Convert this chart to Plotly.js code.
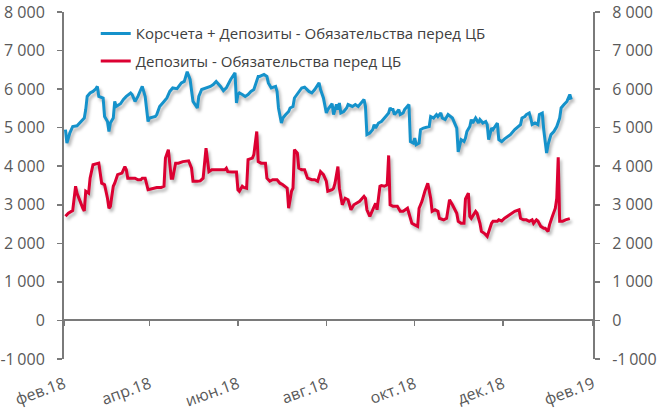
<!DOCTYPE html>
<html>
<head>
<meta charset="utf-8">
<script src="https://cdn.plot.ly/plotly-3.0.1.min.js"></script>
<style>
html,body{margin:0;padding:0;background:#fff;}
#chart{width:661px;height:410px;}
.scatterlayer .js-line{filter:drop-shadow(2px 3px 1.5px rgba(0,0,0,0.28));}
</style>
</head>
<body>
<div id="chart"></div>
<script>
// Series names
const seriesNames = ["Корсчета + Депозиты - Обязательства перед ЦБ", "Депозиты - Обязательства перед ЦБ"];

// Series 1: Корсчета + Депозиты - Обязательства перед ЦБ
const datesBlue = [
"2018-02-02","2018-02-03","2018-02-05","2018-02-07","2018-02-10","2018-02-13","2018-02-15","2018-02-16","2018-02-17","2018-02-19",
"2018-02-21","2018-02-23","2018-02-24","2018-02-25","2018-02-28","2018-03-01","2018-03-03","2018-03-04","2018-03-05","2018-03-07",
"2018-03-08","2018-03-09","2018-03-12","2018-03-14","2018-03-16","2018-03-19","2018-03-20","2018-03-22","2018-03-24","2018-03-26",
"2018-03-27","2018-03-29","2018-03-31","2018-04-01","2018-04-05","2018-04-06","2018-04-08","2018-04-11","2018-04-13","2018-04-15",
"2018-04-17","2018-04-20","2018-04-21","2018-04-23","2018-04-25","2018-04-27","2018-04-29","2018-05-01","2018-05-04","2018-05-05",
"2018-05-07","2018-05-10","2018-05-13","2018-05-15","2018-05-17","2018-05-20","2018-05-22","2018-05-24","2018-05-27","2018-05-30",
"2018-05-31","2018-06-01","2018-06-02","2018-06-04","2018-06-06","2018-06-08","2018-06-10","2018-06-12","2018-06-13","2018-06-15",
"2018-06-16","2018-06-19","2018-06-21","2018-06-22","2018-06-24","2018-06-27","2018-06-28","2018-06-29","2018-07-01","2018-07-02",
"2018-07-04","2018-07-06","2018-07-07","2018-07-09","2018-07-10","2018-07-13","2018-07-15","2018-07-17","2018-07-20","2018-07-22",
"2018-07-24","2018-07-27","2018-07-28","2018-07-30","2018-08-01","2018-08-02","2018-08-05","2018-08-06","2018-08-08","2018-08-09",
"2018-08-10","2018-08-11","2018-08-13","2018-08-15","2018-08-16","2018-08-19","2018-08-21","2018-08-23","2018-08-25","2018-08-27",
"2018-08-28","2018-08-29","2018-08-31","2018-09-02","2018-09-03","2018-09-04","2018-09-06","2018-09-08","2018-09-11","2018-09-13",
"2018-09-14","2018-09-15","2018-09-16","2018-09-17","2018-09-19","2018-09-20","2018-09-21","2018-09-23","2018-09-24","2018-09-26",
"2018-09-27","2018-09-28","2018-09-30","2018-10-01","2018-10-02","2018-10-04","2018-10-05","2018-10-07","2018-10-09","2018-10-11",
"2018-10-12","2018-10-14","2018-10-16","2018-10-17","2018-10-19","2018-10-20","2018-10-22","2018-10-24","2018-10-27","2018-10-28",
"2018-10-30","2018-10-31","2018-11-01","2018-11-02","2018-11-04","2018-11-05","2018-11-06","2018-11-07","2018-11-08","2018-11-09",
"2018-11-10","2018-11-12","2018-11-14","2018-11-15","2018-11-17","2018-11-19","2018-11-20","2018-11-21","2018-11-23","2018-11-24",
"2018-11-26","2018-11-27","2018-11-28","2018-11-30","2018-12-02","2018-12-06","2018-12-09","2018-12-12","2018-12-13","2018-12-14",
"2018-12-16","2018-12-17","2018-12-19","2018-12-20","2018-12-21","2018-12-23","2018-12-25","2018-12-26","2018-12-28","2018-12-29",
"2018-12-31","2019-01-01","2019-01-03","2019-01-05","2019-01-07","2019-01-09","2019-01-10","2019-01-12","2019-01-14","2019-01-16",
"2019-01-17"];
const valuesBlue = [
4950,4600,4860,5030,5050,5160,5250,5470,5810,5900,
5940,6010,6070,5810,5770,5290,5160,4900,5120,5250,
5680,5550,5620,5730,5810,5900,5860,5680,5810,5990,
6070,5810,5160,5250,5290,5340,5550,5680,5770,5940,
6030,6010,6070,6160,6200,6450,6250,5680,5510,5810,
5990,6030,6070,6120,6200,6070,5960,6030,6250,6420,
5640,5860,5900,5860,5810,5860,5940,5990,6120,6330,
6330,6380,6330,6160,6030,6070,5940,5510,5120,5250,
5340,5420,5510,5550,5770,5940,6030,6050,5940,5900,
5990,6160,5990,5770,5380,5470,5620,5340,5600,5470,
5640,5380,5420,5510,5600,5550,5600,5550,5640,5730,
5550,4820,4860,4950,5080,4990,5120,5160,5290,5380,
5510,5470,5470,5340,5420,5470,5340,5380,5470,5550,
5600,4640,4600,4730,4560,4600,4950,4990,5010,5030,
5290,5250,5340,5290,5380,5250,5210,5340,5250,5160,
4990,4370,4510,4690,4640,4730,4900,4950,5030,5210,
5120,5250,5120,5210,5120,5160,5080,4690,4990,4950,
5080,5120,4690,4640,4710,4820,4950,5030,5080,5250,
5290,5340,5380,5250,5080,5120,5080,5340,5380,4950,
4340,4560,4820,4900,5030,5250,5510,5600,5680,5860,
5730];

// Series 2: Депозиты - Обязательства перед ЦБ
const datesRed = [
"2018-02-02","2018-02-04","2018-02-07","2018-02-09","2018-02-10","2018-02-12","2018-02-14","2018-02-15","2018-02-16","2018-02-18",
"2018-02-19","2018-02-21","2018-02-24","2018-02-25","2018-02-27","2018-03-01","2018-03-03","2018-03-04","2018-03-05","2018-03-07",
"2018-03-08","2018-03-10","2018-03-13","2018-03-15","2018-03-16","2018-03-17","2018-03-20","2018-03-22","2018-03-24","2018-03-26",
"2018-03-27","2018-03-29","2018-03-31","2018-04-03","2018-04-06","2018-04-09","2018-04-11","2018-04-12","2018-04-14","2018-04-16",
"2018-04-17","2018-04-19","2018-04-21","2018-04-24","2018-04-28","2018-04-30","2018-05-01","2018-05-04","2018-05-06","2018-05-08",
"2018-05-10","2018-05-12","2018-05-14","2018-05-18","2018-05-23","2018-05-24","2018-05-25","2018-05-28","2018-05-31","2018-06-01",
"2018-06-02","2018-06-04","2018-06-05","2018-06-07","2018-06-08","2018-06-11","2018-06-12","2018-06-14","2018-06-15","2018-06-17",
"2018-06-20","2018-06-21","2018-06-23","2018-06-25","2018-06-28","2018-06-30","2018-07-02","2018-07-05","2018-07-06","2018-07-08",
"2018-07-09","2018-07-10","2018-07-12","2018-07-13","2018-07-15","2018-07-17","2018-07-19","2018-07-22","2018-07-24","2018-07-26",
"2018-07-28","2018-07-30","2018-08-01","2018-08-02","2018-08-05","2018-08-06","2018-08-07","2018-08-09","2018-08-10","2018-08-12",
"2018-08-14","2018-08-16","2018-08-18","2018-08-20","2018-08-22","2018-08-24","2018-08-27","2018-08-28","2018-08-29","2018-08-31",
"2018-09-02","2018-09-04","2018-09-05","2018-09-07","2018-09-08","2018-09-10","2018-09-12","2018-09-13","2018-09-14","2018-09-16",
"2018-09-19","2018-09-21","2018-09-23","2018-09-26","2018-09-27","2018-09-29","2018-10-01","2018-10-03","2018-10-04","2018-10-06",
"2018-10-08","2018-10-10","2018-10-12","2018-10-13","2018-10-15","2018-10-17","2018-10-18","2018-10-21","2018-10-23","2018-10-25",
"2018-10-27","2018-10-29","2018-10-30","2018-10-31","2018-11-02","2018-11-04","2018-11-05","2018-11-07","2018-11-08","2018-11-09",
"2018-11-12","2018-11-13","2018-11-15","2018-11-16","2018-11-18","2018-11-20","2018-11-21","2018-11-23","2018-11-24","2018-11-27",
"2018-11-28","2018-11-30","2018-12-02","2018-12-06","2018-12-09","2018-12-12","2018-12-13","2018-12-15","2018-12-17","2018-12-19",
"2018-12-21","2018-12-22","2018-12-24","2018-12-25","2018-12-27","2018-12-29","2018-12-30","2019-01-01","2019-01-02","2019-01-04",
"2019-01-06","2019-01-07","2019-01-08","2019-01-09","2019-01-11","2019-01-13","2019-01-16"];
const valuesRed = [
2700,2780,2850,3480,3300,3090,2910,2840,3350,3300,
3690,4040,4080,4080,3560,3520,3170,2910,2960,3480,
3560,3780,3820,3990,3910,3690,3690,3690,3650,3650,
3690,3690,3390,3420,3450,3450,3480,4210,4430,3690,
3690,4080,4080,4120,4140,3950,3610,3610,3620,3690,
4470,3860,3910,3910,3910,3950,3860,3850,3850,3390,
3350,3480,3450,3430,4170,4210,4300,4900,4120,4080,
4080,3690,3610,3650,3650,3560,3520,3430,2910,3350,
3430,4430,4340,3950,3910,3910,3690,3650,3650,3610,
3860,3780,3610,3350,3390,3430,3560,3990,3430,3000,
3170,3130,2870,3000,3040,3090,3220,3170,2870,2700,
2870,3040,2870,3480,3500,3480,3520,4280,3000,2960,
2960,2830,2830,2910,2780,2520,2480,2440,2910,3090,
3350,3560,3170,2830,2870,2830,2650,2610,2650,3130,
3000,2830,2780,2570,2520,2520,3150,3300,2700,2650,
2830,2780,2520,2310,2260,2180,2310,2520,2570,2570,
2610,2580,2650,2740,2830,2870,2650,2610,2610,2570,
2610,2520,2610,2580,2440,2390,2390,2310,2480,2700,
2910,3170,4230,2570,2570,2610,2640];

// Axis ticks
const xTickVals = ["2018-02-01","2018-04-01","2018-06-01","2018-08-01","2018-10-01","2018-12-01","2019-02-01"];
const xTickText = ["фев.18","апр.18","июн.18","авг.18","окт.18","дек.18","фев.19"];
const yTickVals = [-1000,0,1000,2000,3000,4000,5000,6000,7000,8000];
const yTickText = ["-1\u2009000","0","1 000","2 000","3 000","4 000","5 000","6 000","7 000","8 000"];
const xRange = ["2018-02-01","2019-02-01"];
const yRange = [-1000, 8000];

const FONT = "'Open Sans', 'Noto Sans', sans-serif";
const AXIS_COLOR = "#7a7a7a";
const TEXT_COLOR = "#595959";

const traces = [
  {x: datesBlue, y: valuesBlue, name: seriesNames[0], type: "scatter", mode: "lines",
   line: {color: "#1592CB", width: 3}, legendgroup: "a", xaxis: "x", yaxis: "y"},
  {x: datesRed, y: valuesRed, name: seriesNames[1], type: "scatter", mode: "lines",
   line: {color: "#DC0032", width: 3}, legendgroup: "b", xaxis: "x2", yaxis: "y2"}
];

const yCommon = {
  range: yRange, tickmode: "array", tickvals: yTickVals, ticktext: yTickText,
  showgrid: false, zeroline: false, showline: true, linecolor: AXIS_COLOR, linewidth: 2,
  ticks: "outside", ticklen: 5, tickwidth: 1.5, tickcolor: AXIS_COLOR,
  tickfont: {family: FONT, size: 16, color: TEXT_COLOR}, ticklabelstandoff: 9, fixedrange: true
};

const layout = {
  width: 661, height: 410,
  margin: {l: 64, r: 68, t: 12, b: 51, pad: 0},
  paper_bgcolor: "#ffffff", plot_bgcolor: "#ffffff",
  showlegend: true,
  legend: {x: 0.06, y: 0.985, xanchor: "left", yanchor: "top", bgcolor: "rgba(0,0,0,0)",
           font: {family: FONT, size: 15, color: "#404040"}, traceorder: "grouped", tracegroupgap: 5},
  xaxis: {type: "date", range: xRange, tickmode: "array", tickvals: xTickVals, ticktext: xTickText,
          showgrid: false, zeroline: false, showline: false, ticks: "", tickangle: -20,
          tickfont: {family: FONT, size: 16, color: TEXT_COLOR}, ticklabelstandoff: 12, fixedrange: true},
  xaxis2: {type: "date", range: xRange, tickmode: "array", tickvals: xTickVals, showticklabels: false,
           overlaying: "x", anchor: "free", position: (0 - yRange[0]) / (yRange[1] - yRange[0]),
           showgrid: false, zeroline: false, showline: true, linecolor: AXIS_COLOR, linewidth: 2,
           ticks: "outside", ticklen: 5, tickwidth: 1.5, tickcolor: AXIS_COLOR, fixedrange: true},
  yaxis: Object.assign({side: "left", anchor: "x"}, yCommon),
  yaxis2: Object.assign({side: "right", overlaying: "y", anchor: "x"}, yCommon)
};

Plotly.newPlot("chart", traces, layout, {staticPlot: true, displayModeBar: false});
</script>
</body>
</html>
